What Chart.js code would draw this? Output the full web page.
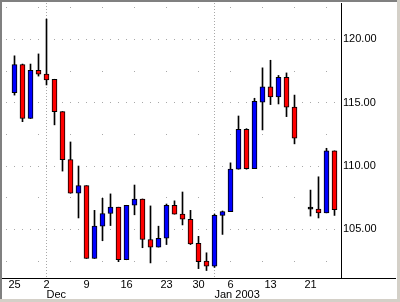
<!DOCTYPE html>
<html>
<head>
<meta charset="utf-8">
<script src="https://cdn.jsdelivr.net/npm/chart.js@4/dist/chart.umd.min.js"></script>
<style>
  html, body { margin: 0; padding: 0; background: #d4d0c8; }
  #frame {
    position: absolute; left: 0; top: 0; width: 397px; height: 299px;
    box-sizing: border-box; background: #fff;
    border-left: 2px solid #808080; border-top: 2px solid #808080;
  }
  #wrap { position: absolute; left: 2px; top: 2px; width: 395px; height: 296px; }
</style>
</head>
<body>
<div id="frame"></div>
<div id="wrap"><canvas id="chart" width="395" height="296"></canvas></div>
<script>
// trading days, Nov 25 2002 .. Jan 24 2003 (Jan 17 has no quote)
const days = ['11-25','11-26','11-27','11-29','12-02','12-03','12-04','12-05','12-06',
  '12-09','12-10','12-11','12-12','12-13','12-16','12-17','12-18','12-19','12-20',
  '12-23','12-24','12-26','12-27','12-30','12-31','01-02','01-03','01-06','01-07',
  '01-08','01-09','01-10','01-13','01-14','01-15','01-16','01-17','01-21','01-22',
  '01-23','01-24'];

const opens  = [115.8, 118.0, 113.75, 117.55, 117.25, 116.85, 114.3, 110.5, 107.85,
  108.45, 102.7, 105.25, 106.25, 106.75, 102.6, 106.9, 107.4, 104.2, 103.6,
  104.3, 106.9, 106.2, 105.8, 103.9, 102.5, 102.1, 106.1, 106.4, 109.75,
  112.9, 109.8, 115.05, 116.25, 115.45, 117.0, 114.65, null, 106.6, 106.6,
  106.3, 111.2];
const highs  = [118.7, 118.05, 118.05, 118.85, 121.6, 116.85, 114.3, 111.9, 110.0,
  108.45, 106.5, 107.45, 107.8, 106.75, 106.9, 108.5, 107.4, 106.85, 105.25,
  107.0, 107.25, 107.95, 106.5, 104.45, 103.15, 106.2, 106.45, 110.25, 113.95,
  112.95, 115.35, 117.75, 118.35, 117.15, 117.35, 115.6, null, 108.1, 109.15,
  111.4, 111.2];
const lows   = [115.6, 113.5, 113.75, 117.1, 116.4, 113.25, 109.6, 107.85, 105.9,
  102.7, 102.7, 104.1, 105.3, 102.45, 102.6, 106.15, 103.55, 102.35, 103.6,
  103.8, 106.2, 105.35, 103.8, 101.9, 101.75, 102.0, 104.6, 106.4, 109.75,
  109.75, 109.8, 112.85, 114.85, 114.9, 113.9, 111.75, null, 106.05, 105.9,
  106.3, 106.1];
const closes = [118.0, 113.75, 117.55, 117.25, 116.8, 114.3, 110.5, 107.85, 108.45,
  102.7, 105.25, 106.25, 106.75, 102.6, 106.9, 107.4, 104.2, 103.6, 104.3,
  106.9, 106.2, 105.8, 103.85, 102.45, 102.1, 106.1, 106.4, 109.75, 112.9,
  109.8, 115.1, 116.25, 115.45, 117.0, 114.65, 112.2, null, 106.6, 106.3,
  111.2, 106.55];

const weekTickIdx    = [0, 4, 9, 14, 19, 23, 27, 32, 37];
const weekTickLabels = ['25', '2', '9', '16', '23', '30', '6', '13', '21'];
const monthTickIdx    = [4, 25];
const monthTickLabels = ['Dec', 'Jan 2003'];
const priceTicks = [105, 110, 115, 120];
const minorPriceTicks = [102.5, 107.5, 112.5, 117.5, 122.5];

const idx = days.map((d, i) => i).filter(i => opens[i] != null);
const bodies = idx.map(i => ({ x: i, y: [opens[i], closes[i]] }));
const wicks  = idx.map(i => ({ x: i, y: [lows[i], highs[i]] }));
const bodyColors = idx.map(i =>
  closes[i] > opens[i] ? '#0000ff' : closes[i] < opens[i] ? '#ff0000' : '#000000');

const xMin = -1.3125, xMax = 40.8125;
const yMin = 101.16, yMax = 122.87;
const font = { family: 'Liberation Sans, Arial, sans-serif', size: 11 };
const dotColor = '#a8a8a8';

const baseLine = {
  id: 'baseLine',
  afterDraw(chart) {
    const ctx = chart.ctx;
    ctx.save();
    ctx.fillStyle = '#000';
    ctx.fillRect(0, Math.round(chart.chartArea.bottom), chart.width - 1, 1);
    ctx.restore();
  }
};

new Chart(document.getElementById('chart'), {
  type: 'bar',
  data: {
    datasets: [{
      label: 'body',
      data: bodies,
      backgroundColor: bodyColors,
      borderColor: '#000',
      borderWidth: 1,
      borderSkipped: false,
      barThickness: 5,
      minBarLength: 2,
      grouped: false
    }, {
      label: 'wick',
      data: wicks,
      backgroundColor: '#000',
      borderWidth: 0,
      barThickness: 1,
      grouped: false
    }]
  },
  options: {
    responsive: false,
    animation: false,
    layout: { padding: { left: 2, top: 1, right: 0, bottom: 0 } },
    plugins: { legend: { display: false }, tooltip: { enabled: false } },
    scales: {
      x: {
        type: 'linear', position: 'bottom', min: xMin, max: xMax, weight: 0, offset: false,
        afterBuildTicks: s => { s.ticks = weekTickIdx.map(v => ({ value: v })); },
        afterFit: s => { s.height = 12; s.paddingLeft = 0; s.paddingRight = 0; },
        ticks: { callback: (v, i) => weekTickLabels[i], autoSkip: false, maxRotation: 0,
                 padding: 0, color: '#000', font: font },
        grid: { display: false, drawTicks: false, offset: false },
        border: { display: false }
      },
      x2: {
        type: 'linear', position: 'bottom', min: xMin, max: xMax, weight: 1, offset: false,
        afterBuildTicks: s => { s.ticks = monthTickIdx.map(v => ({ value: v })); },
        afterFit: s => { s.height = 8; s.paddingLeft = 0; s.paddingRight = 0; },
        ticks: { callback: (v, i) => monthTickLabels[i], autoSkip: false, maxRotation: 0,
                 align: 'start', padding: -2, color: '#000', font: font },
        grid: { color: dotColor, drawTicks: false, offset: false },
        border: { display: false, dash: [1, 2] }
      },
      y: {
        type: 'linear', position: 'right', min: yMin, max: yMax,
        afterBuildTicks: s => { s.ticks = priceTicks.map(v => ({ value: v })); },
        afterFit: s => { s.width = 56; s.paddingTop = 0; s.paddingBottom = 0; },
        ticks: { callback: v => v.toFixed(2), padding: 2, color: '#000', font: font },
        grid: { color: dotColor, drawTicks: false },
        border: { display: true, color: '#000', width: 1, dash: [1, 7], dashOffset: 6 }
      },
      y2: {
        type: 'linear', position: 'left', min: yMin, max: yMax,
        afterBuildTicks: s => { s.ticks = minorPriceTicks.map(v => ({ value: v })); },
        afterFit: s => { s.width = 0; s.paddingTop = 0; s.paddingBottom = 0; },
        ticks: { display: false },
        grid: { color: dotColor, drawTicks: false },
        border: { display: false, dash: [1, 31], dashOffset: 30 }
      }
    }
  },
  plugins: [baseLine]
});
</script>
</body>
</html>
